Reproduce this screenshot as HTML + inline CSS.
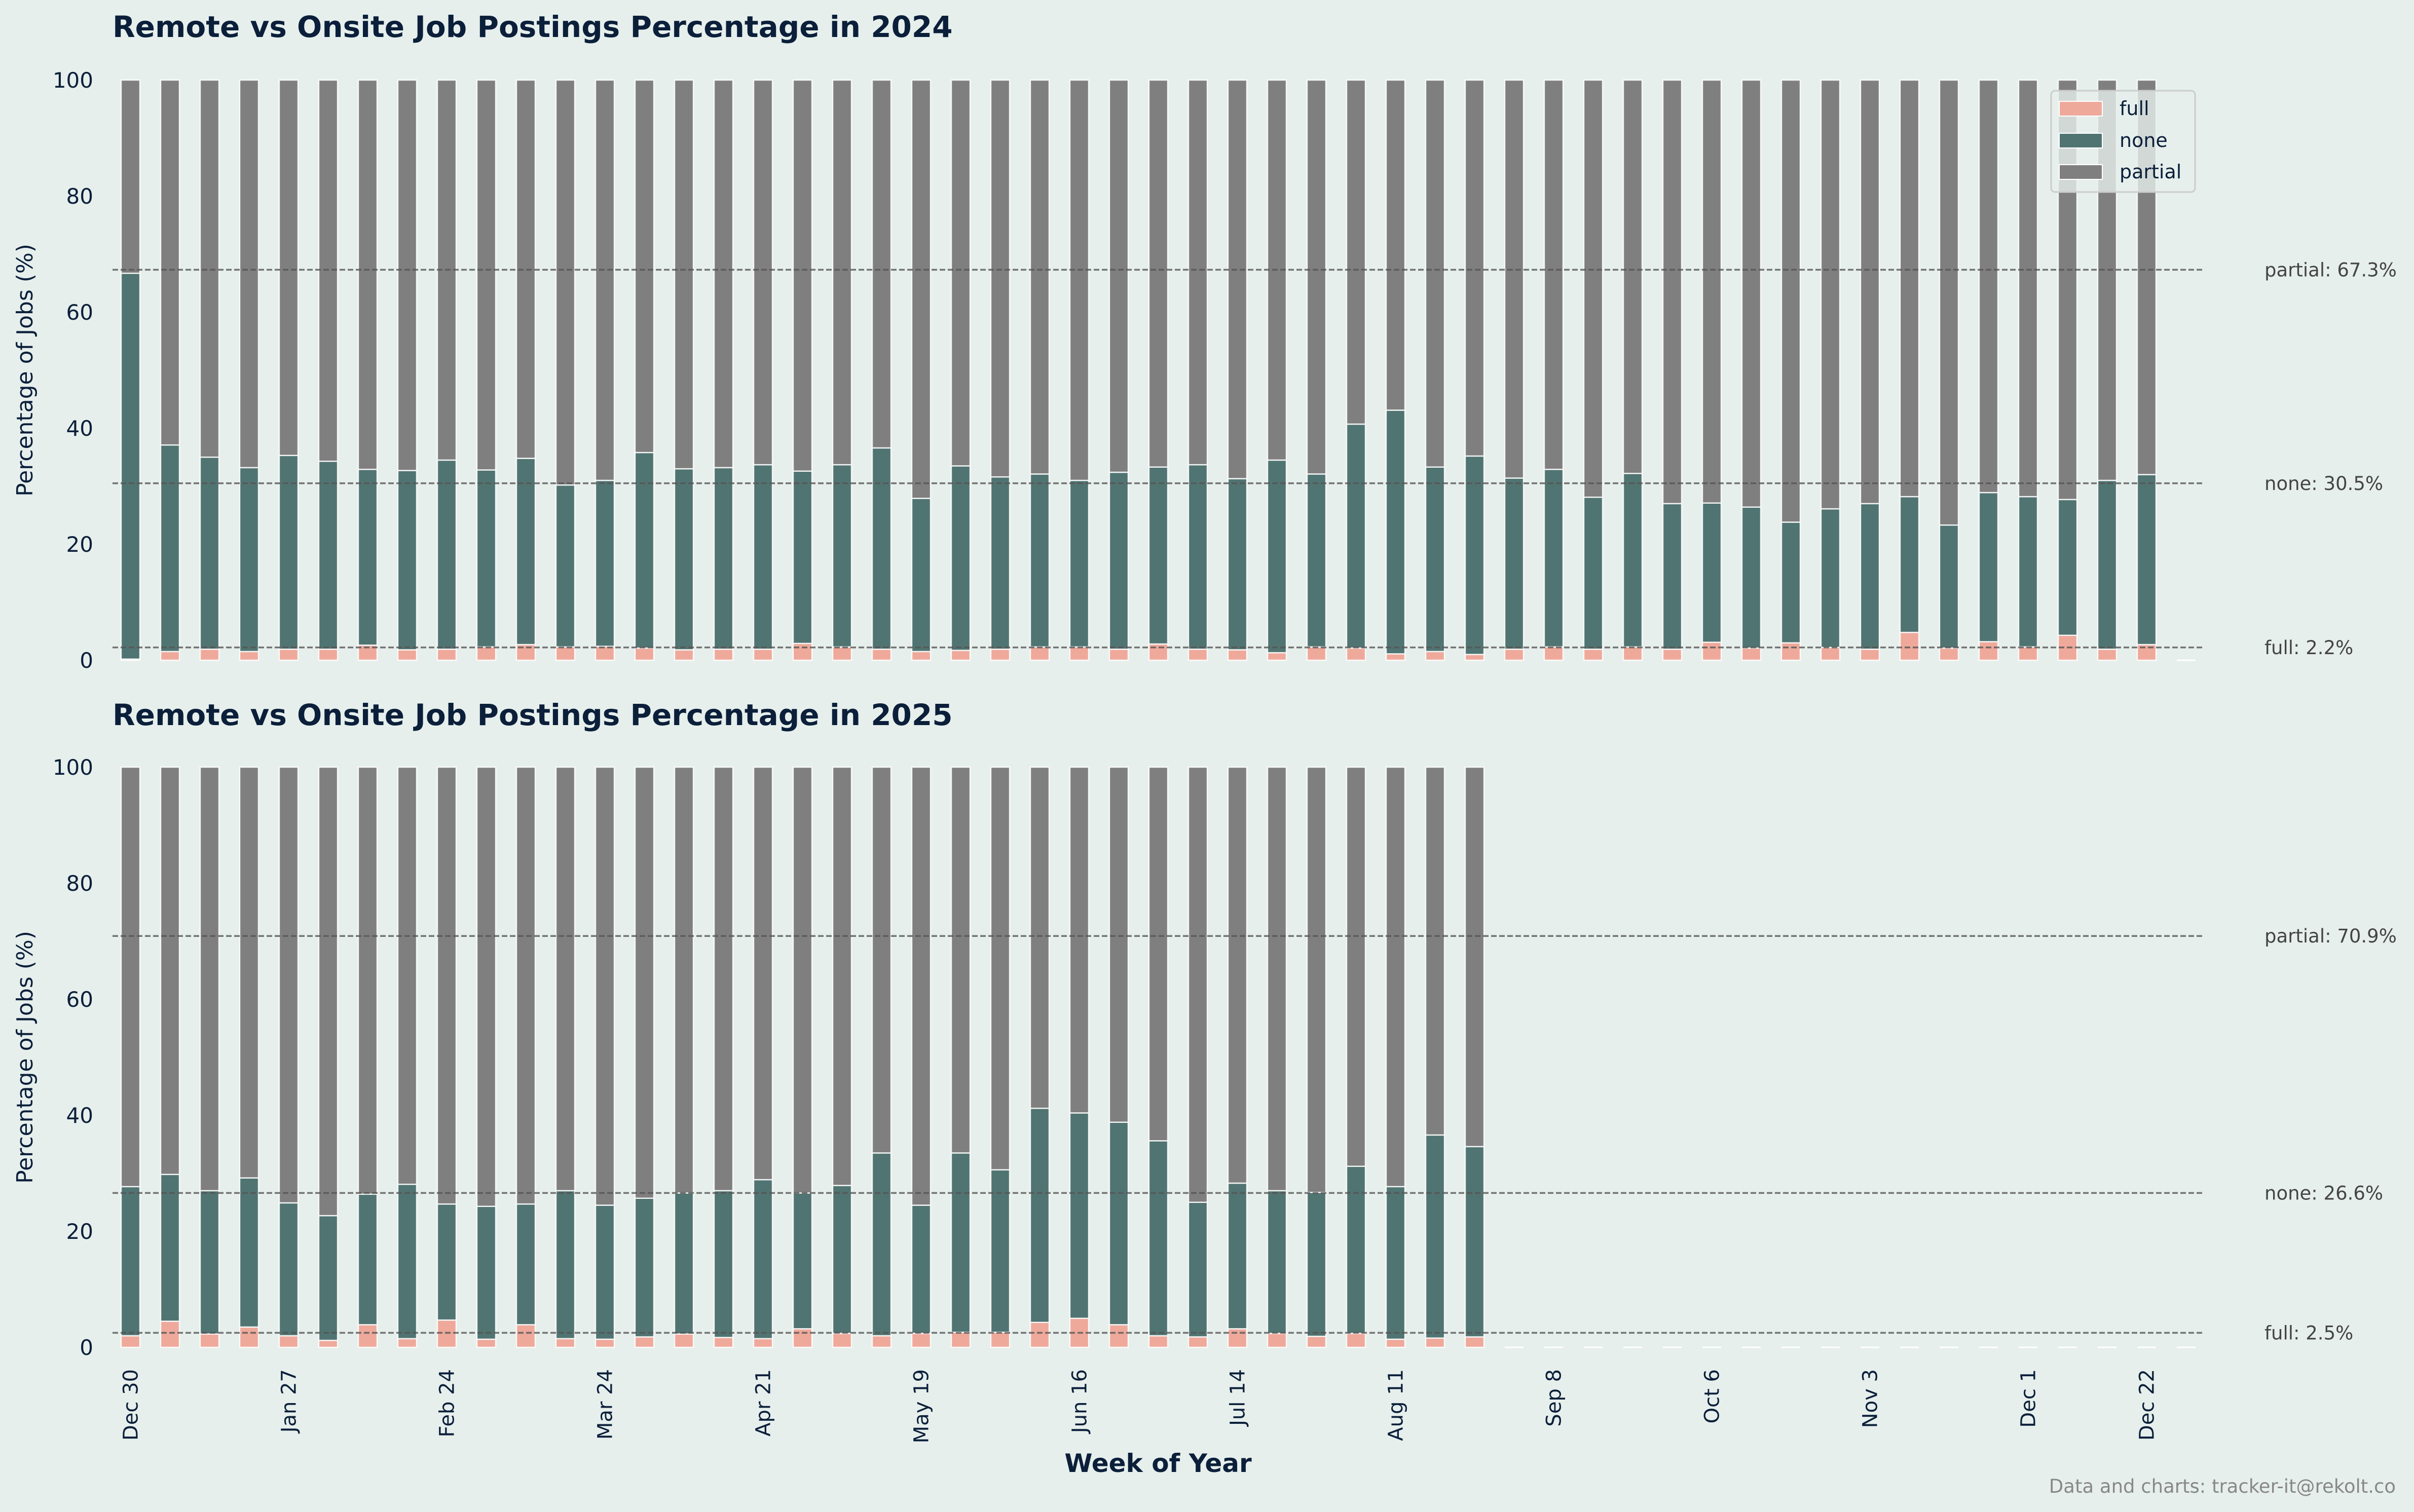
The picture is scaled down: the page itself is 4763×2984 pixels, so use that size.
<!DOCTYPE html>
<html><head><meta charset="utf-8">
<style>
html,body{margin:0;padding:0;background:#e6efec;}
svg{display:block;font-family:"DejaVu Sans","Liberation Sans",sans-serif;}
</style></head>
<body>
<svg id="chart" width="4763" height="2984" viewBox="0 0 4763 2984" xmlns="http://www.w3.org/2000/svg">
<rect width="4763" height="2984" fill="#e6efec"/>
<text x="222" y="73" font-size="58" font-weight="bold" fill="#0b1f3a">Remote vs Onsite Job Postings Percentage in 2024</text>
<text x="222" y="1431" font-size="58" font-weight="bold" fill="#0b1f3a">Remote vs Onsite Job Postings Percentage in 2025</text>
<text x="2285" y="2905" font-size="50" font-weight="bold" fill="#0b1f3a" text-anchor="middle">Week of Year</text>
<text x="4727" y="2946" font-size="37" fill="#888888" text-anchor="end">Data and charts: tracker-it@rekolt.co</text>
<g id="legend">
<rect x="4047" y="179" width="284" height="200" rx="8" fill="#e6efec" fill-opacity="0.8" stroke="#cccccc" stroke-width="3"/>
<rect x="4063" y="200" width="85" height="29" fill="#eea99b" stroke="#fff" stroke-width="2"/>
<text x="4182" y="227" font-size="38" fill="#0b1f3a">full</text>
<rect x="4063" y="263" width="85" height="29" fill="#507471" stroke="#fff" stroke-width="2"/>
<text x="4182" y="290" font-size="38" fill="#0b1f3a">none</text>
<rect x="4063" y="325" width="85" height="29" fill="#7e7f7e" stroke="#fff" stroke-width="2"/>
<text x="4182" y="352" font-size="38" fill="#0b1f3a">partial</text>
</g>
</svg>
<script>
const weekLabels = ["Dec 30","Jan 27","Feb 24","Mar 24","Apr 21","May 19","Jun 16","Jul 14","Aug 11","Sep 8","Oct 6","Nov 3","Dec 1","Dec 22"];
const weekLabelIdx = [0,4,8,12,16,20,24,28,32,36,40,44,48,51];
const yTicks = [0,20,40,60,80,100];
const full2024 = [0.2,1.5,1.9,1.5,1.9,1.9,2.6,1.8,1.9,2.3,2.7,2.3,2.4,2.1,1.8,1.9,1.9,2.9,2.3,1.9,1.5,1.7,1.9,2.3,2.3,1.9,2.8,1.9,1.8,1.3,2.3,2.1,1.1,1.5,1.0,1.9,2.3,1.9,2.3,1.9,3.1,2.1,3.0,2.2,1.9,4.8,2.1,3.2,2.3,4.3,1.9,2.7,null];
const none2024 = [66.5,35.6,33.1,31.7,33.4,32.4,30.3,30.9,32.6,30.5,32.1,27.9,28.6,33.7,31.2,31.3,31.8,29.7,31.4,34.7,26.4,31.8,29.7,29.8,28.7,30.5,30.5,31.8,29.5,33.2,29.8,38.6,42.0,31.8,34.2,29.5,30.6,26.2,29.9,25.1,24.0,24.3,20.8,23.9,25.1,23.4,21.2,25.7,25.9,23.4,29.1,29.3,null];
const full2025 = [2.0,4.5,2.3,3.5,2.0,1.2,3.9,1.5,4.7,1.4,3.9,1.5,1.4,1.8,2.3,1.7,1.5,3.2,2.4,2.0,2.4,2.6,2.6,4.3,5.0,3.9,2.0,1.8,3.2,2.4,1.9,2.4,1.4,1.6,1.8,null,null,null,null,null,null,null,null,null,null,null,null,null,null,null,null,null,null];
const none2025 = [25.7,25.3,24.7,25.7,22.9,21.5,22.5,26.6,20.0,22.9,20.8,25.5,23.1,23.9,24.3,25.3,27.4,23.4,25.5,31.5,22.1,30.9,28.0,36.9,35.4,34.9,33.6,23.2,25.1,24.6,24.8,28.8,26.3,35.0,32.8,null,null,null,null,null,null,null,null,null,null,null,null,null,null,null,null,null,null];
const avgNames = ["partial","none","full"];
const avg2024 = [67.3,30.5,2.2];
const avg2025 = [70.9,26.6,2.5];

const NS = "http://www.w3.org/2000/svg";
const svg = document.getElementById("chart");
const legendNode = document.getElementById("legend");
function mk(tag, attrs, parent){ const e=document.createElementNS(NS,tag); for(const k in attrs) e.setAttribute(k,attrs[k]); (parent||svg).insertBefore(e, legendNode); return e; }
const X0 = 257.5, STEP = 78, BW = 37;
function xScale(i){ return X0 + i*STEP; }
const COLORS = {full:"#eea99b", none:"#507471", partial:"#7e7f7e"};

function drawPanel(yearKey, full, none, avg, yZero){
  const yS = v => yZero - v*11.45;
  yTicks.forEach(t=>{
    const tx = mk("text",{x:184,y:yS(t)+15,"font-size":42,fill:"#0b1f3a","text-anchor":"end"});
    
    
    tx.textContent = t;
  });
  const yl = mk("text",{x:0,y:0,"font-size":44,fill:"#0b1f3a","text-anchor":"middle",transform:"translate(64,"+yS(50)+") rotate(-90)"});
  
  
  yl.textContent = "Percentage of Jobs (%)";
  for(let i=0;i<full.length;i++){
    const cx = xScale(i), x = cx - BW/2;
    if(full[i]===null){
      const ln = mk("line",{x1:x,x2:x+BW,y1:yS(0),y2:yS(0),stroke:"#ffffff","stroke-width":3});
      
      
      continue;
    }
    const f = full[i], n = none[i];
    const segs = [["full",0,f],["none",f,f+n],["partial",f+n,100]];
    segs.forEach(s=>{
      const r = mk("rect",{x:x,y:yS(s[2]),width:BW,height:Math.max(0,yS(s[1])-yS(s[2])),fill:COLORS[s[0]],stroke:"#ffffff","stroke-width":2.5,"stroke-opacity":0.85});
      
      
    });
  }
  avg.forEach((v,k)=>{
    const ln = mk("line",{x1:222,x2:4349,y1:yS(v),y2:yS(v),stroke:"#555555","stroke-opacity":0.8,"stroke-width":3.5,"stroke-dasharray":"11 5"});
    
    
    const tx = mk("text",{x:4468,y:yS(v)+13,"font-size":37,fill:"#444444"});
    
    
    tx.textContent = avgNames[k]+": "+v.toFixed(1)+"%";
  });
}
drawPanel("2024", full2024, none2024, avg2024, 1303);
drawPanel("2025", full2025, none2025, avg2025, 2659);
weekLabels.forEach((lab,k)=>{
  const cx = xScale(weekLabelIdx[k]);
  const tx = mk("text",{x:0,y:0,"font-size":40,fill:"#0b1f3a","text-anchor":"end",transform:"translate("+(cx+14)+",2702) rotate(-90)"});
  
  
  tx.textContent = lab;
});
</script>
</body></html>
